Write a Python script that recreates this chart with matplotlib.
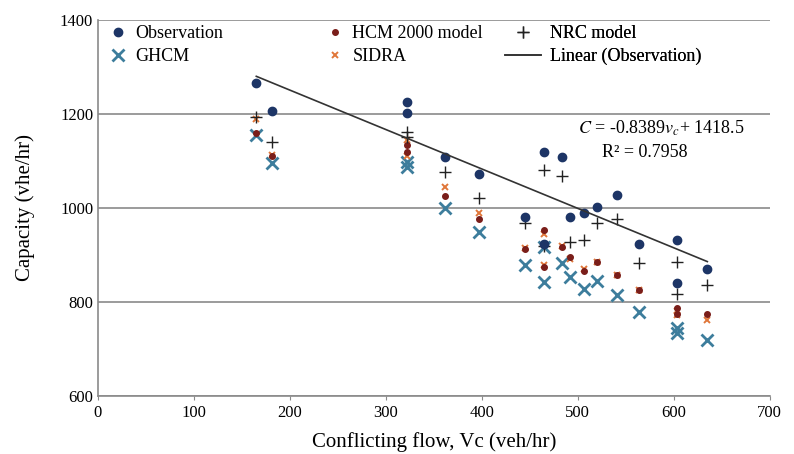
"""
Capacity vs. conflicting flow: observed values against four capacity models,
with a linear fit through the observations.
"""
import numpy as np
import matplotlib
matplotlib.use('Agg')
import matplotlib.pyplot as plt

plt.rcParams['font.family'] = ['Liberation Serif', 'DejaVu Serif']
plt.rcParams['mathtext.fontset'] = 'stix'

# conflicting flow (veh/hr) for each observation site
vc = [165, 181, 322, 322, 362, 397, 445, 465, 465, 484, 492, 507, 520, 541,
      564, 603, 603, 635]

# capacity (vhe/hr)
obs   = [1266, 1206, 1226, 1202, 1109, 1072, 981, 1119, 923, 1109, 981, 989,
         1002, 1028, 923, 932, 840, 870]
hcm   = [1160, 1110, 1134, 1120, 1026, 977, 912, 953, 875, 917, 896, 866,
         885, 857, 826, 787, 775, 775]
nrc   = [1194, 1140, 1162, 1150, 1077, 1021, 968, 1081, 920, 1068, 928, 932,
         968, 977, 883, 885, 817, 835]
ghcm  = [1155, 1096, 1098, 1087, 1000, 949, 879, 917, 843, 883, 853, 828,
         845, 815, 779, 745, 734, 720]
sidra = [1190, 1112, 1145, 1110, 1045, 989, 915, 945, 879, 920, 891, 870,
         885, 857, 826, 780, 772, 762]

# linear fit reported for the observations
fit_slope, fit_icpt, fit_r2 = -0.8389, 1418.5, 0.7958

fig = plt.figure(figsize=(7.94, 4.54), dpi=100)
ax = fig.add_axes([0.1234, 0.128, 0.846, 0.828])

h_obs, = ax.plot(vc, obs, 'o', color='#1d3566', ms=6, zorder=6,
                 label='Observation')
h_ghcm, = ax.plot(vc, ghcm, 'x', color='#3d7d9c', ms=9, mew=2.0, zorder=3,
                  label='GHCM')
h_hcm, = ax.plot(vc, hcm, 'o', color='#7a1e1a', ms=4, zorder=5,
                 label='HCM 2000 model')
h_sidra, = ax.plot(vc, sidra, 'x', color='#e0773a', ms=5, mew=1.4, zorder=4,
                   label='SIDRA')
h_nrc, = ax.plot(vc, nrc, '+', color='#222222', ms=8, mew=1.0, zorder=5,
                 label='NRC model')

xfit = np.array([min(vc), max(vc)])
h_lin, = ax.plot(xfit, fit_slope * xfit + fit_icpt, '-', color='#333333',
                 lw=1.2, zorder=7, label='Linear (Observation)')

fig.text(0.938, 0.718, r'$C$ = -0.8389$v_c$+ 1418.5',
         ha='right', va='center', fontsize=13)
fig.text(0.812, 0.665, f'R² = {fit_r2:.4f}',
         ha='center', va='center', fontsize=13)

# one legend per column so each column can sit where it should
leg_kw = dict(frameon=False, fontsize=13, handletextpad=0.5,
              labelspacing=0.3, borderpad=0, borderaxespad=0,
              loc='upper left', bbox_transform=fig.transFigure)
columns = [([h_obs, h_ghcm], 0.1385, 0.9),
           ([h_hcm, h_sidra], 0.412, 0.9),
           ([h_nrc, h_lin], 0.636, 2.0)]
for handles, x0, hl in columns:
    leg = ax.legend(handles=handles, bbox_to_anchor=(x0, 0.944),
                    handlelength=hl, **leg_kw)
    ax.add_artist(leg)

ax.set_xlim(0, 700)
ax.set_ylim(600, 1400)
ax.set_xticks(range(0, 701, 100))
ax.set_yticks(range(600, 1401, 200))
ax.yaxis.grid(True, color='#8a8a8a', lw=1.2)
ax.set_axisbelow(True)
ax.tick_params(labelsize=12, length=3, color='#8a8a8a')
ax.tick_params(axis='y', length=0)
for side in ('top', 'right'):
    ax.spines[side].set_visible(False)
for side in ('left', 'bottom'):
    ax.spines[side].set_color('#8a8a8a')
    ax.spines[side].set_linewidth(1.2)

ax.set_xlabel('Conflicting flow, Vc (veh/hr)', fontsize=15, labelpad=8)
ax.set_ylabel('Capacity (vhe/hr)', fontsize=15, labelpad=18)

fig.savefig('out.png', dpi=100, facecolor='white')
plt.close(fig)
